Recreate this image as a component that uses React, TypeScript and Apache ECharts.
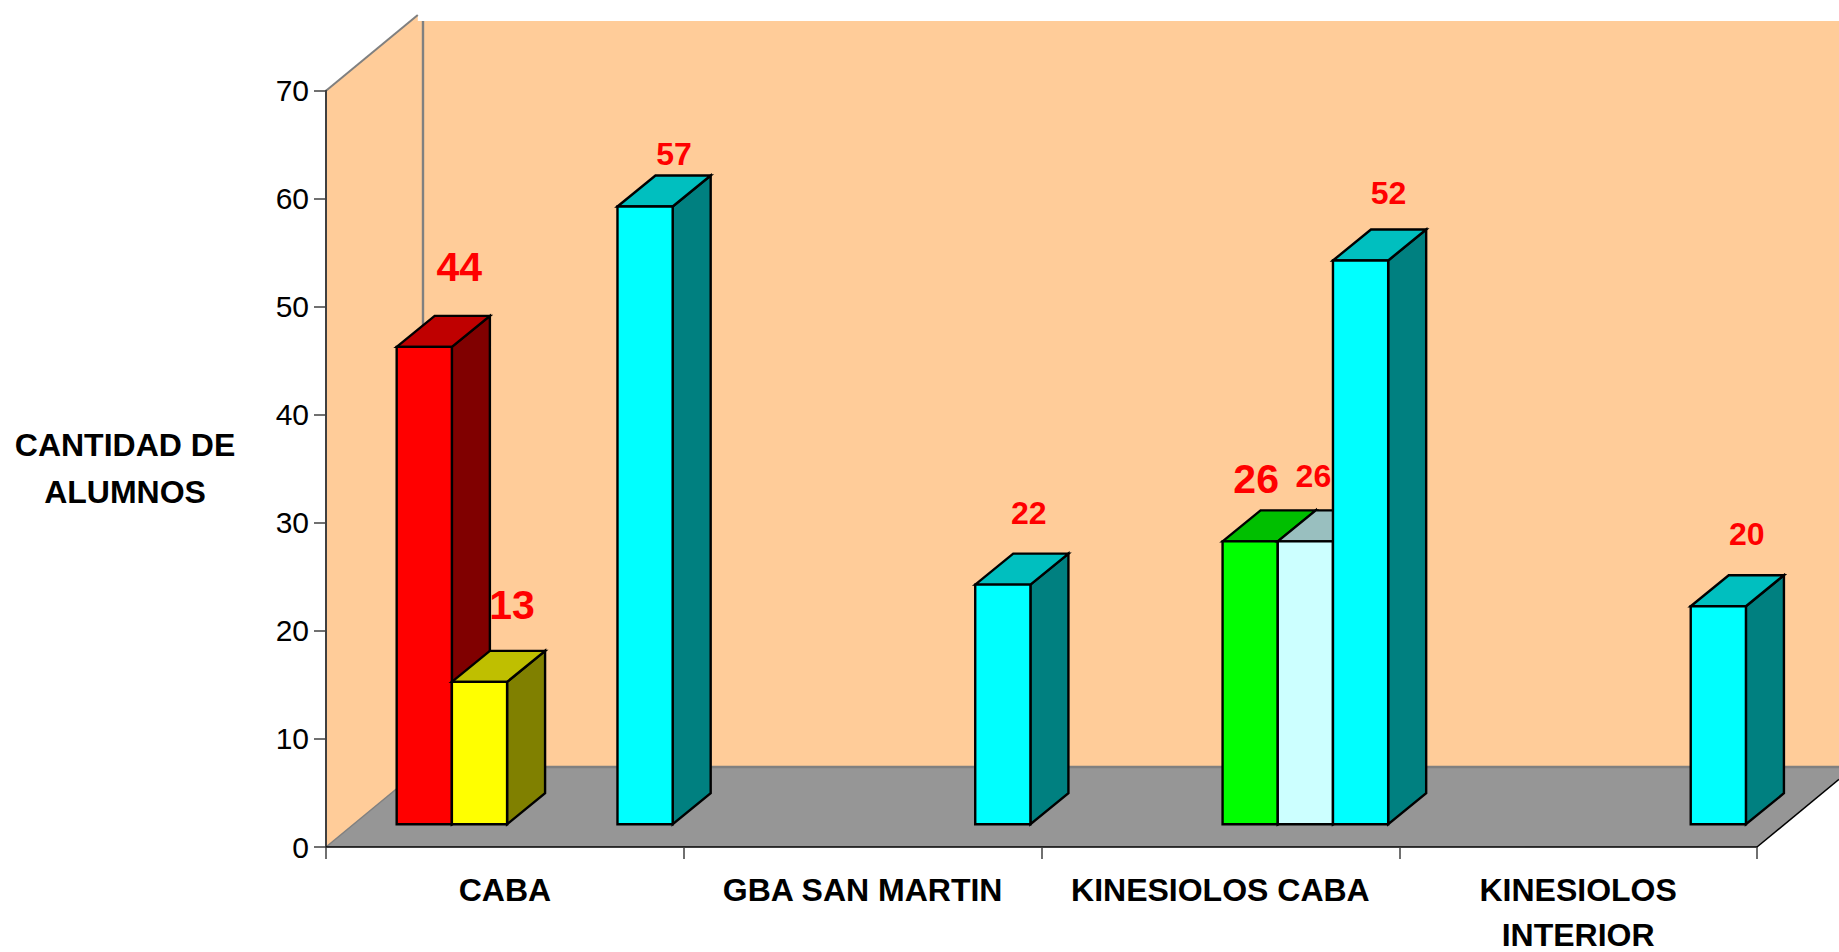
import React, { useEffect, useRef } from "react";
import * as echarts from "echarts";

const categories = ["CABA", "GBA SAN MARTIN", "KINESIOLOS CABA", "KINESIOLOS\nINTERIOR"];
const redValues = [44, null, null, null];
const yellowValues = [13, null, null, null];
const greenValues = [null, null, 26, null];
const paleValues = [null, null, 26, null];
const cyanValues = [57, 22, 52, 20];

const seriesValues = [redValues, yellowValues, greenValues, paleValues, cyanValues];
const seriesNames = ["Rojo", "Amarillo", "Verde", "Celeste", "Cian"];
const frontColors = ["#FF0000", "#FFFF00", "#00FF00", "#CCFFFF", "#00FFFF"];
const topColors = ["#BF0000", "#BFBF00", "#00BF00", "#99BFBF", "#00BFBF"];
const sideColors = ["#800000", "#808000", "#008000", "#668080", "#008080"];

// label tweaks: [slot, category, dx, dy, fontSize]
const labelTweaks = [
  [0, 0, 35, -80, 41],
  [1, 0, 32.5, -77, 41],
  [4, 0, 29, -52.5, 32],
  [4, 1, 26, -71.5, 32],
  [2, 2, 6, -62, 41],
  [3, 2, 8, -65, 32],
  [4, 2, 28, -67, 32],
  [4, 3, 28.5, -72, 32],
];

const FONT = '"Liberation Sans", Arial, sans-serif';
const SLOT_RATIO = 55.2 / 357.75;
const SHIFT_X = 29.8;
const SHIFT_Y = -22.7;
const TOP_LIFT = -2;
const BAR_DX = 38;
const BAR_DY = -31;
const WALL_DX = 97;
const WALL_DY = -80;

function barGeometry(api: any, cat: number, value: number, slot: number) {
  const band = api.size([1, 0])[0];
  const slotW = band * SLOT_RATIO;
  const center = api.coord([cat, 0]);
  const top = api.coord([cat, value]);
  const x0 = center[0] + SHIFT_X + (slot - 2.5) * slotW;
  return { x0, x1: x0 + slotW, yBase: center[1] + SHIFT_Y, yTop: top[1] + SHIFT_Y + TOP_LIFT };
}

function makeBarSeries(slot: number) {
  return {
    type: "custom",
    name: seriesNames[slot],
    coordinateSystem: "cartesian2d",
    clip: false,
    silent: true,
    encode: { x: 0, y: 1 },
    data: seriesValues[slot]
      .map((v, i) => (v === null ? null : [i, v]))
      .filter(Boolean),
    renderItem: (_p: any, api: any) => {
      const { x0, x1, yBase, yTop } = barGeometry(api, api.value(0), api.value(1), slot);
      const stroke = { stroke: "#000", lineWidth: 2.4, lineJoin: "miter" };
      return {
        type: "group",
        children: [
          {
            type: "polygon",
            shape: { points: [[x1, yTop], [x1 + BAR_DX, yTop + BAR_DY], [x1 + BAR_DX, yBase + BAR_DY], [x1, yBase]] },
            style: { fill: sideColors[slot], ...stroke },
          },
          {
            type: "polygon",
            shape: { points: [[x0, yTop], [x0 + BAR_DX, yTop + BAR_DY], [x1 + BAR_DX, yTop + BAR_DY], [x1, yTop]] },
            style: { fill: topColors[slot], ...stroke },
          },
          {
            type: "rect",
            shape: { x: x0, y: yTop, width: x1 - x0, height: yBase - yTop },
            style: { fill: frontColors[slot], ...stroke },
          },
        ],
      };
    },
  };
}

const wallSeries = {
  type: "custom",
  name: "Paredes",
  coordinateSystem: "cartesian2d",
  clip: false,
  silent: true,
  z: 1,
  encode: { x: 0, y: 1 },
  data: [[0, 0]],
  renderItem: (_p: any, api: any) => {
    const band = api.size([1, 0])[0];
    const origin = api.coord([0, 0]);
    const topPt = api.coord([0, 70]);
    const xL = origin[0] - band / 2;
    const xR = xL + band * categories.length;
    const yB = origin[1];
    const yT = topPt[1];
    const W = api.getWidth();
    const xBack = xL + WALL_DX;
    const yBack = yB + WALL_DY;
    const cutTop = 21;
    const sideCut = 15;
    const sideCutX = xL + ((yT - sideCut) / -WALL_DY) * WALL_DX;
    const rightY = yB - ((W - xR) * -WALL_DY) / WALL_DX;
    const wall = "#FFCC99";
    const gray = "#808080";
    return {
      type: "group",
      children: [
        { type: "rect", shape: { x: xBack, y: cutTop, width: W - xBack, height: yBack - cutTop }, style: { fill: wall } },
        {
          type: "polygon",
          shape: { points: [[xL, yB], [xL, yT], [sideCutX, sideCut], [sideCutX, cutTop], [xBack, cutTop], [xBack, yBack]] },
          style: { fill: wall },
        },
        {
          type: "polygon",
          shape: { points: [[xL, yB], [xR, yB], [W, rightY], [W, yBack], [xBack, yBack]] },
          style: { fill: "#969696" },
        },
        { type: "line", shape: { x1: xBack, y1: cutTop, x2: xBack, y2: yBack }, style: { stroke: gray, lineWidth: 2.4 } },
        { type: "line", shape: { x1: xBack, y1: yBack, x2: W, y2: yBack }, style: { stroke: gray, lineWidth: 2.4 } },
        { type: "line", shape: { x1: xL, y1: yB, x2: xBack, y2: yBack }, style: { stroke: gray, lineWidth: 1.5 } },
        { type: "line", shape: { x1: xL, y1: yT, x2: sideCutX, y2: sideCut }, style: { stroke: gray, lineWidth: 2 } },
        { type: "line", shape: { x1: xR, y1: yB, x2: W, y2: rightY }, style: { stroke: "#000", lineWidth: 1.5 } },
      ],
    };
  },
};

const labelSeries = {
  type: "custom",
  name: "Etiquetas",
  coordinateSystem: "cartesian2d",
  clip: false,
  silent: true,
  z: 5,
  encode: { x: 0, y: 1 },
  data: labelTweaks.map(([slot, cat, dx, dy, size]) => [cat, seriesValues[slot][cat], slot, dx, dy, size]),
  renderItem: (_p: any, api: any) => {
    const v = api.value(1);
    const { x0, x1, yTop } = barGeometry(api, api.value(0), v, api.value(2));
    return {
      type: "text",
      style: {
        text: String(v),
        x: (x0 + x1) / 2 + api.value(3),
        y: yTop + api.value(4),
        fill: "#FF0000",
        font: `bold ${api.value(5)}px ${FONT}`,
        textAlign: "center",
        textVerticalAlign: "middle",
      },
    };
  },
};

export default function App() {
  const ref = useRef<HTMLDivElement>(null);
  useEffect(() => {
    document.body.style.margin = "0";
    const chart = echarts.init(ref.current!, null, { renderer: "svg" });
    chart.setOption({
      animation: false,
      backgroundColor: "#FFFFFF",
      grid: { left: 326, top: 90.7, width: 1431, height: 756.3, containLabel: false, outerBoundsMode: "none" },
      xAxis: {
        type: "category",
        data: categories,
        z: 10,
        axisLine: { show: true, lineStyle: { color: "#000", width: 1.5 } },
        axisTick: { show: true, length: 12, lineStyle: { color: "#404040", width: 1.5 } },
        axisLabel: {
          interval: 0,
          margin: 20,
          color: "#000",
          fontFamily: FONT,
          fontWeight: "bold",
          fontSize: 32,
          lineHeight: 45,
          hideOverlap: false,
        },
      },
      yAxis: {
        type: "value",
        min: 0,
        max: 70,
        interval: 10,
        z: 10,
        name: "CANTIDAD DE\nALUMNOS",
        nameLocation: "middle",
        nameRotate: 0,
        nameGap: 201,
        nameTextStyle: {
          color: "#000",
          fontFamily: FONT,
          fontWeight: "bold",
          fontSize: 32,
          lineHeight: 47,
          align: "center",
          verticalAlign: "middle",
          padding: [5, 0, 0, 0],
        },
        axisLine: { show: true, lineStyle: { color: "#404040", width: 2 } },
        axisTick: { show: true, length: 12, lineStyle: { color: "#404040", width: 1.5 } },
        splitLine: { show: false },
        axisLabel: { margin: 17, color: "#000", fontFamily: FONT, fontSize: 30 },
      },
      series: [wallSeries, ...seriesValues.map((_, i) => makeBarSeries(i)), labelSeries],
    });
    return () => chart.dispose();
  }, []);
  return <div ref={ref} style={{ position: "absolute", left: 0, top: 0, width: 1839, height: 952 }} />;
}
